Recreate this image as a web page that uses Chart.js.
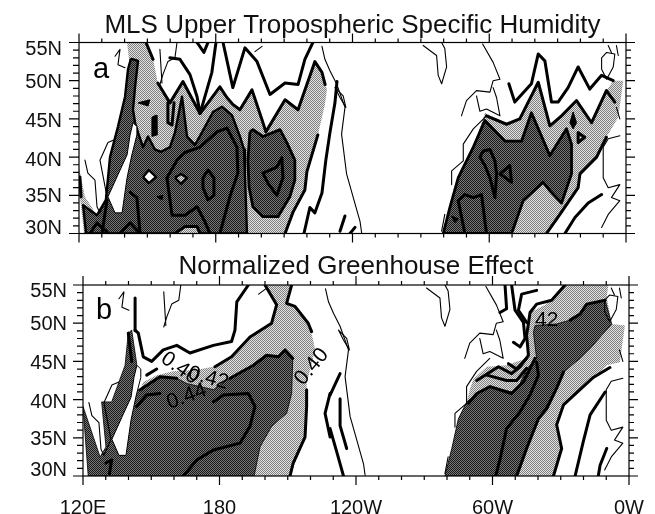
<!DOCTYPE html>
<html>
<head>
<meta charset="utf-8">
<title>MLS humidity and greenhouse effect</title>
<script src="https://cdn.jsdelivr.net/npm/chart.js@4/dist/chart.umd.min.js"></script>
<style>
    html, body { margin: 0; padding: 0; background: #fff; }
    #wrap { position: relative; width: 655px; height: 514px; overflow: hidden; }
    canvas { position: absolute; left: 0; }
    #panelA { top: 0; }
    #panelB { top: 250px; }
</style>
</head>
<body>
<div id="wrap">
    <canvas id="panelA" width="655" height="264"></canvas>
    <canvas id="panelB" width="655" height="264"></canvas>
</div>
<script>
// Axis labels
const lonLabelValues = [120, 180, 240, 300, 360];
const lonLabels = ['120E', '180', '120W', '60W', '0W'];
const latLabelValues = [30.7, 34.8, 39.6, 44.7, 49.8, 54.1];
const latLabels = ['30N', '35N', '40N', '45N', '50N', '55N'];

// Everything below is [longitude east, latitude]

// Panel a, shaded areas
const lightA1 = [[149.4,55],[152.5,52.8],[154.6,49.7],[159.9,47.1],[165.6,49.9],[173.1,45.7],[181.8,49.2],[184.9,47.8],[187.5,46.9],[190.6,46.2],[195.9,48.8],[200.3,44.9],[202,43.3],[210.4,47.5],[216.1,46.2],[223.5,52.5],[226.6,51.1],[228.8,48.8],[227.9,46.9],[224.8,42.9],[220,38.1],[219.1,35.7],[213.9,32.8],[210.4,30],[122.2,30],[120.4,34.8],[120,38.7],[122.6,34.8],[127.9,32.4],[131.8,34.4],[133.6,40],[137.1,44],[140.2,47.9],[142.4,51.5],[141.1,55]];
const lightA2 = [[279.8,30],[282.7,33.4],[286.4,37.3],[293,41.3],[298.1,45.8],[307.6,44.3],[313.4,45],[321.5,49.8],[326.6,44.1],[331.7,45.4],[338.3,47.4],[344.9,44.5],[351.4,48.7],[354.4,50],[358.8,50],[356.6,45.2],[351.4,42.6],[347.1,40],[339.8,37.8],[339,36],[331,32.5],[325.1,30]];
const darkA1 = [[142.8,52.9],[145.9,52.6],[144.6,49.2],[143.7,46.2],[144.6,44.5],[145.9,43.2],[148.1,41.3],[150.3,42.7],[153.3,41],[156,40.7],[159.9,41.3],[162.1,43.2],[165.2,47.9],[167.4,42.7],[170.9,41.6],[173.9,43.2],[178.8,45.9],[182.7,46.6],[187.1,45.5],[190.6,42.7],[192.4,41],[192.8,37.7],[193.2,34.4],[193.7,30],[123.1,30],[121.8,33.7],[127.9,32.4],[131.8,34.4],[133.6,40],[137.1,44],[140.2,47.9],[141.5,51.5]];
const darkA2 = [[195,43.3],[196.3,43.6],[200.7,42.7],[208.2,43.6],[211.2,41.9],[214.7,39.6],[214.7,37],[212.5,34.8],[207.3,32.2],[200.7,32.2],[196.3,33.5],[194.6,36.1],[194.1,39.6]];
const darkA3 = [[279.8,30],[282.7,33.4],[286.4,37.3],[293,41.3],[298.1,44.8],[306.9,42.1],[314.2,42.1],[318.5,45.8],[326.6,40.2],[333.9,43.7],[336.1,41.7],[336.1,37.8],[331.7,34],[326.6,35.6],[323.7,36.7],[314.9,34.3],[309.8,30]];
const patchA = [[162.1,30],[166.5,30.9],[171.8,30.9],[173.1,30]];
const ringWhiteA = [[148.1,37.4],[150.7,38.3],[153.8,37.4],[150.7,36.6]];
const ringLightA = [[162.1,37.3],[164.7,37.8],[167.4,37.3],[164.7,36.5]];

// Panel a, black blobs
const blobsA = [
    [[145.9,47.1],[151.1,47.5],[150.3,46.7]],
    [[152,45.2],[153.8,45.5],[154.2,42.9],[152,42.7]],
    [[154.2,34.8],[156.8,35],[156.4,34.4]],
    [[283.5,32.3],[286.4,31.9],[284.9,31.4]],
    [[336.8,45.9],[338.3,44.5],[336.8,43.7],[335.4,44.5]]
];

// Panel a, contour lines
const contoursA = [
    [[149.4,55],[152.5,52.8]],
    [[154.6,49.7],[159.9,47.1],[165.6,49.9],[173.1,45.7],[181.8,49.2],[184.9,47.8],[187.5,46.9],[190.6,46.2],[195.9,48.8],[200.3,44.9],[202,43.3],[210.4,47.5],[216.1,46.2],[223.5,52.5],[226.6,51.1],[228,49.5]],
    [[183.2,55],[187.5,49.1],[192.8,54.3],[198.1,52.5],[203.8,48.2],[210.4,49.7],[216.1,49.5],[219.1,52.8],[222.6,55]],
    [[180.1,55],[178.3,51.1],[173.1,45.7],[171.8,47.9],[168.7,50.8],[164.3,52.8],[159.9,53]],
    [[171.8,55],[174.8,53.7],[176.6,55]],
    [[159,47.1],[159,44.5],[160.8,44.2],[161.7,47.1]],
    [[158.6,37.3],[163,39.6],[166.5,40.6],[173.1,41.3],[180.5,43.3],[184.9,43.8],[189.3,41.3],[189.7,37.9],[186.2,34.8],[181.8,30]],
    [[158.6,37.3],[160.8,32.4],[166.5,32.4],[171.8,33.5],[175.3,31.5],[177.5,30]],
    [[174.4,37.3],[176.6,38.3],[179.2,37.3],[179.2,35],[176.6,34.4],[174.4,36],[174.4,37.3]],
    [[200.7,37.9],[206.8,38.7],[209,39.9],[209.5,37.3],[206.8,35],[202.9,36.6],[200.7,37.9]],
    [[142.4,35.4],[145.4,34.7],[146.8,30]],
    [[132.3,34.4],[130.1,30]],
    [[124.8,30],[127.9,31.4],[132.3,30.2]],
    [[138,30],[142.4,31.4],[146.8,30]],
    [[120.4,37.4],[120.9,34.8]],
    [[162.1,30],[166.5,30.9],[171.8,30.9],[173.1,30]],
    [[224.8,42.9],[220,38.1],[219.1,35.7],[213.9,32.8],[210.4,30]],
    [[218.7,30],[221.3,33.4],[223.5,32.7],[226.6,35.3],[228.3,39.6],[230.1,43.2],[232.3,47.1],[233.2,49.9]],
    [[234.5,30.3],[236.7,32.3]],
    [[238.9,30],[241.1,30.8]],
    [[298.8,45.4],[307.6,44.3],[313.4,45],[321.5,49.8],[326.6,44.1],[331.7,45.4],[338.3,47.4],[344.9,44.5],[351.4,48.7],[355.1,47.2]],
    [[308.6,49.6],[311.2,47.2],[318.5,49.6],[321.5,53.5],[324.4,52.6],[327.3,47.2],[330.2,47.2],[334.6,49.1],[339,51.8],[344.1,48.9],[349.3,50.7],[354.4,50]],
    [[351.4,42.6],[347.1,40],[339.8,37.8],[339,36],[331,32.5],[325.1,30]],
    [[333.2,30],[337.6,32.1],[343.4,34],[349.3,35.1]],
    [[289.3,30],[286.4,34.3],[289.3,35.1],[293,34.7],[296.6,35.1],[298.8,30]],
    [[295.9,40],[297.4,40.8],[300.3,41],[302.5,39.5],[303.2,37.8],[302.5,34.7],[300.3,37.3],[298.1,38.9],[295.9,40]],
    [[304.7,37.8],[309,38.9],[309.8,36.7],[304.7,37.8]],
    [[339,43.2],[341.9,42.6],[339,41.9],[339,43.2]]
];

// Panel b, shaded areas
const lightB1 = [[200,55],[205.1,52.4],[202.9,50],[193.4,48.2],[185.3,45.6],[177.3,44.3],[170,43.9],[159.7,43.7],[152.4,43.2],[146.5,42.3],[143.6,40.4],[142.1,39.1],[140.7,30],[211,30],[217.6,35.1],[218.3,39.5],[218.3,42.1],[222,46.5],[221.2,47.8],[219,50],[213.2,52.2],[209.5,52.6],[211.7,55]];
const lightB2 = [[279.1,30],[282.1,33.6],[285,37.5],[288.7,39.7],[290.1,41.4],[291.6,42.7],[297.5,44.3],[306.2,44.5],[315,45.4],[316.5,51.4],[323.8,52.5],[331.9,55],[350.9,55],[350.2,53.4],[352.4,49.9],[358.2,49.7],[356,44.9],[350.2,44.5],[344.3,42.7],[331.2,39.3],[328.2,36.7],[330.4,33.6],[326.8,30]];
const darkB1 = [[122.3,30],[120,39.1],[127.5,32.5],[130.1,33.8],[128.2,39.7],[132.6,39.7],[138.5,44.5],[139.9,48.7],[141.4,49.1],[143.6,44.7],[142.1,41.3],[145.1,41.3],[153.8,43],[161.2,42.8],[165.6,42.1],[177.3,41.3],[184.6,42.8],[194.9,44.5],[200.7,45.8],[205.9,45.6],[208.8,46.5],[212.2,45.4],[211.7,40.8],[209.5,38.2],[202.9,36.5],[197.8,33.8],[195.2,30]];
const darkB2 = [[279.1,30],[282.1,33.6],[285,37.5],[288.7,39.7],[293.1,40.8],[298.9,41.7],[308.4,41],[312.1,42.1],[315,44],[319.4,45.4],[318,48.8],[318.7,49.7],[328.2,49.9],[334.1,50.4],[338.5,51.2],[341.4,52.5],[349.5,53],[352.4,49.9],[342.9,46.7],[338.5,45.4],[331.2,43.6],[326.8,40.6],[320.2,37.5],[315,33.6],[310.6,30]];

// Panel b, contour lines
const contoursB = [
    [[192.7,55],[187.6,52.8],[186.8,49.1],[185.3,47.6],[177.3,47.1],[167,46.1],[161.2,47.1],[155.3,46.5],[150.2,45],[146.5,45.6],[144.3,48.7],[142.9,49.1]],
    [[142.9,53.3],[142.9,49]],
    [[139.9,48.7],[141.4,45]],
    [[130.1,31.7],[132.6,32.1],[131.6,30.3]],
    [[200,55],[205.1,52.4],[202.9,50],[193.4,48.2],[185.3,45.6],[178,44.3]],
    [[148,43.2],[152.4,44]],
    [[145.1,41.3],[153.8,43],[161.2,42.8]],
    [[184.6,42.8],[194.9,44.5],[200.7,45.8],[205.9,45.6],[208.8,46.5],[212.2,45.4]],
    [[211.7,55],[209.5,52.6],[213.2,52.2],[219,50],[220.5,48.9]],
    [[218.3,41.3],[218.3,39.1],[217.6,35.1],[212.4,31.7],[211,30]],
    [[143.6,39.1],[148,40.6],[153.8,40.8]],
    [[177.3,39.7],[181.7,40.6],[192.7,40.8],[195.6,39.1],[193.4,36.5],[189,34.3],[177.3,33.4],[170,32.1],[164.1,30]],
    [[228.6,40.8],[226.4,38.2],[228.6,35.1]],
    [[233,43.4],[228.6,40.6]],
    [[233,40.1],[233,36.6],[235.9,33.6]],
    [[228.6,36.2],[231.5,33.2],[234.5,30]],
    [[331.9,55],[326,53],[319.4,52.5],[316.5,51.4],[315,48.4],[315.8,45.8],[312.1,44.3],[308.4,43.4],[302.6,44.3],[293.1,42.5]],
    [[305.5,55],[306.2,51.9],[303.3,51.4]],
    [[308.4,55],[309.9,51.7],[313.6,50.1],[314.3,48],[312.1,46.9],[309.2,47.5]],
    [[319.4,54.3],[312.8,53.8],[311.4,51.7],[315,50.1]],
    [[307,44.7],[310.6,44],[315,45.4]],
    [[319.4,44.9],[320.2,43.2],[316.5,40.6],[312.1,38.4],[306.2,36.2],[303.3,32.2],[301.4,30]],
    [[297.5,43.2],[306.2,42.5],[310.6,42.5],[315,44.1]],
    [[289.4,39.5],[293.1,40.8],[298.9,41.7],[308.4,40.8],[313.6,42.3],[318.7,45.4]],
    [[331.2,43.6],[328.2,41.5],[323.8,38.8],[320.2,37.5],[315,33.6],[310.6,30]],
    [[334.1,50.4],[338.5,51.2],[341.4,52.5],[349.5,53]],
    [[351.6,44.2],[344.3,42.9],[331.2,39.3],[328.2,36.7],[330.4,33.6],[326.8,30]],
    [[349.5,41],[342.9,38],[339.9,34.5],[336.3,30]],
    [[350.2,33.6],[347.3,31.4],[346.5,30]]
];

// Contour labels on panel b
const labelTextsB = ['0.40', '0.42', '0.44', '0.40', '42'];
const labelPlacesB = [[162.6,44.1], [175.1,42.8], [165.6,40.4], [220.5,44.3], [323.8,50.4]];
const labelAnglesB = [35, 15, -20, -50, 0];

// Shared coastlines
const coastLines = [
    [[226.6,54.5],[227.9,52.8],[230.1,51.3],[233,49.6],[236.7,46.5],[235.2,43],[237.4,37.8],[243.3,31.6],[244,30.1]],
    [[232.3,49.1],[235.9,48],[237.1,46.5],[234.5,47.8],[232.3,49.1]],
    [[271,54.6],[276.9,53.3],[277.6,50.7],[279.1,49.6],[281.3,51.8],[280.5,54.2],[279.1,55]],
    [[297.1,54.8],[301.7,52.4],[304.7,50.2],[301.7,50],[300.3,48.5],[294.4,48.7],[290,47.4],[287.8,45.4]],
    [[294.4,48],[295.9,46],[298.8,46.3],[304.7,45.4],[303.2,47.8],[301.7,49.1]],
    [[298.8,45.4],[293,43.7],[288.6,41.7],[288.6,39.5],[283.5,38.2],[283.5,36.4]],
    [[280.5,32.5],[279.1,30.3]],
    [[349.3,53],[351.5,53.7],[355.1,53.5],[354.4,51.8],[351.5,50.2],[349.3,51.5],[349.3,53]],
    [[352.2,54.6],[353.6,53.7]],
    [[355.8,54.6],[356.6,53.3]],
    [[355.8,46.5],[357.3,45]],
    [[357.3,42.8],[352.2,42.4],[350,41.3],[350,37.3],[352.2,36],[357.3,36.4],[353.6,34.7],[357.3,34.3],[352.2,32.5],[349.3,30.8]],
    [[122.6,39.6],[123.9,37.9],[127,37],[127.9,33.5],[129.2,32.7],[132.3,34.8],[129.2,39.6],[132.7,41.9],[135.8,42.3]],
    [[135.8,53.2],[138,54.1],[137.1,52.1],[140.2,51.7]],
    [[155.5,54.1],[156.4,49.7]],
    [[163,55],[162.1,53],[159,52.5],[156.8,50.8],[155.5,49.5]],
    [[197.2,53.8],[200.3,54.5]]
];
const japanOutline = [[143.7,44.5],[142.4,42.9],[141.1,40.3],[137.1,37.7],[132.7,34.8],[135.8,32.7],[138.9,32.7],[141.1,37.3],[143.2,40.3],[145.4,42.9],[145.4,44]];

// Halftone fills like the scanned print
function makeDither(c1, c2) {
    const tile = document.createElement('canvas');
    tile.width = tile.height = 2;
    const t = tile.getContext('2d');
    t.fillStyle = c1;
    t.fillRect(0, 0, 2, 2);
    t.fillStyle = c2;
    t.fillRect(0, 0, 1, 1);
    t.fillRect(1, 1, 1, 1);
    return t.createPattern(tile, 'repeat');
}

function toPoints(list) {
    return list.map(p => ({ x: p[0], y: p[1] }));
}

function lineSet(list, width) {
    return {
        data: toPoints(list),
        showLine: true,
        fill: false,
        pointRadius: 0,
        borderColor: '#000',
        borderWidth: width,
        borderJoinStyle: 'round',
        borderCapStyle: 'round'
    };
}

function shapeSet(list, color, width) {
    return {
        data: toPoints(list.concat([list[0]])),
        showLine: true,
        fill: 'shape',
        backgroundColor: color,
        pointRadius: 0,
        borderColor: width ? '#000' : 'rgba(0,0,0,0)',
        borderWidth: width,
        borderJoinStyle: 'round'
    };
}

// Frame and the two tick lengths, on all four sides
const frameTicks = {
    id: 'frameTicks',
    afterDatasetsDraw(chart) {
        const { ctx, chartArea: a, scales: { x, y } } = chart;
        ctx.save();
        ctx.strokeStyle = '#000';
        ctx.lineWidth = 1.2;
        ctx.strokeRect(a.left, a.top, a.right - a.left, a.bottom - a.top);
        ctx.beginPath();
        for (let lon = 120; lon <= 360; lon += 10) {
            const px = x.getPixelForValue(lon);
            const major = (lon - 120) % 60 === 0;
            ctx.moveTo(px, a.top);
            ctx.lineTo(px, a.top - (major ? 9 : 4));
            ctx.moveTo(px, a.bottom);
            ctx.lineTo(px, a.bottom + (major ? 9 : 4));
        }
        for (let lat = 30; lat <= 55; lat += 1) {
            const py = y.getPixelForValue(lat);
            const major = lat % 5 === 0;
            ctx.moveTo(a.left, py);
            ctx.lineTo(a.left - (major ? 10 : 6), py);
            ctx.moveTo(a.right, py);
            ctx.lineTo(a.right + (major ? 9 : 5), py);
        }
        ctx.stroke();
        ctx.restore();
    }
};

// Text placed on the map: panel letter and contour labels
const mapText = {
    id: 'mapText',
    afterDatasetsDraw(chart, args, opts) {
        const { ctx, scales: { x, y } } = chart;
        ctx.save();
        ctx.fillStyle = '#000';
        opts.items.forEach(item => {
            ctx.save();
            ctx.translate(x.getPixelForValue(item.at[0]), y.getPixelForValue(item.at[1]));
            ctx.rotate((item.angle || 0) * Math.PI / 180);
            ctx.font = item.size + 'px "Liberation Sans"';
            ctx.textAlign = item.align;
            ctx.textBaseline = item.base;
            ctx.fillText(item.text, 0, 0);
            ctx.restore();
        });
        ctx.restore();
    }
};

function renderPanel(canvasId, cfg) {
    const ordered = cfg.datasets.slice();
    ordered.forEach((d, i) => { d.order = ordered.length - i; });
    return new Chart(document.getElementById(canvasId), {
        type: 'scatter',
        data: { datasets: ordered },
        plugins: [frameTicks, mapText],
        options: {
            responsive: false,
            animation: false,
            events: [],
            layout: { padding: { left: 0, right: cfg.rightGap, top: 0, bottom: 0 } },
            plugins: {
                legend: { display: false },
                tooltip: { enabled: false },
                title: {
                    display: true,
                    text: cfg.title,
                    fullSize: false,
                    color: '#111',
                    font: { family: 'Liberation Sans', size: 26, weight: 'normal' },
                    padding: cfg.titlePad
                },
                mapText: { items: cfg.mapItems }
            },
            scales: {
                x: {
                    type: 'linear',
                    min: 120,
                    max: 360,
                    // blank tick marks only push the labels down, the frame plugin draws the real ones
                    grid: { display: false, drawTicks: true, tickLength: 20, tickColor: 'rgba(0,0,0,0)' },
                    border: { display: false },
                    afterBuildTicks: s => { s.ticks = lonLabelValues.map(v => ({ value: v })); },
                    afterFit: s => { s.height = cfg.bottomGap; },
                    ticks: {
                        display: cfg.showLon,
                        autoSkip: false,
                        maxRotation: 0,
                        padding: 0,
                        color: '#111',
                        font: { family: 'Liberation Sans', size: 20 },
                        callback: (v, i) => lonLabels[i]
                    }
                },
                y: {
                    type: 'linear',
                    min: 30,
                    max: 55,
                    grid: { display: false, drawTicks: false },
                    border: { display: false },
                    afterBuildTicks: s => { s.ticks = latLabelValues.map(v => ({ value: v })); },
                    afterFit: s => { s.width = cfg.leftGap; },
                    ticks: {
                        autoSkip: false,
                        padding: cfg.latPad,
                        color: '#111',
                        font: { family: 'Liberation Sans', size: 20 },
                        callback: (v, i) => latLabels[i]
                    }
                }
            }
        }
    });
}

const lightFill = makeDither('#e2e2e2', '#808080');
const darkFill = makeDither('#767676', '#1a1a1a');
const coastSets = () => [shapeSet(japanOutline, '#fff', 1)].concat(coastLines.map(c => lineSet(c, 1.1)));

renderPanel('panelA', {
    title: 'MLS Upper Tropospheric Specific Humidity',
    titlePad: { top: 9.9, bottom: 1.4 },
    leftGap: 79,
    rightGap: 29,
    bottomGap: 30.5,
    latPad: 17,
    showLon: false,
    mapItems: [{ text: 'a', at: [126.1, 50.4], size: 29, align: 'left', base: 'alphabetic' }],
    datasets: [
        shapeSet(lightA1, lightFill, 0),
        shapeSet(lightA2, lightFill, 0),
        shapeSet(darkA1, darkFill, 2.4),
        shapeSet(darkA2, darkFill, 2.8),
        shapeSet(darkA3, darkFill, 2.8),
        shapeSet(patchA, lightFill, 0),
        shapeSet(ringWhiteA, '#fff', 2.4),
        shapeSet(ringLightA, lightFill, 2.4)
    ].concat(
        coastSets(),
        blobsA.map(b => shapeSet(b, '#000', 1)),
        contoursA.map(c => lineSet(c, 3))
    )
});

renderPanel('panelB', {
    title: 'Normalized Greenhouse Effect',
    titlePad: { top: 1.4, bottom: 2.4 },
    leftGap: 83,
    rightGap: 26,
    bottomGap: 38,
    latPad: 16,
    showLon: true,
    mapItems: [{ text: 'b', at: [125.7, 50.6], size: 29, align: 'left', base: 'alphabetic' }].concat(
        labelTextsB.map((t, i) => ({ text: t, at: labelPlacesB[i], angle: labelAnglesB[i], size: 21, align: 'center', base: 'middle' }))
    ),
    datasets: [
        shapeSet(lightB1, lightFill, 0),
        shapeSet(lightB2, lightFill, 0),
        shapeSet(darkB1, darkFill, 0.8),
        shapeSet(darkB2, darkFill, 0.8)
    ].concat(
        coastSets(),
        contoursB.map(c => lineSet(c, 3))
    )
});
</script>
</body>
</html>
